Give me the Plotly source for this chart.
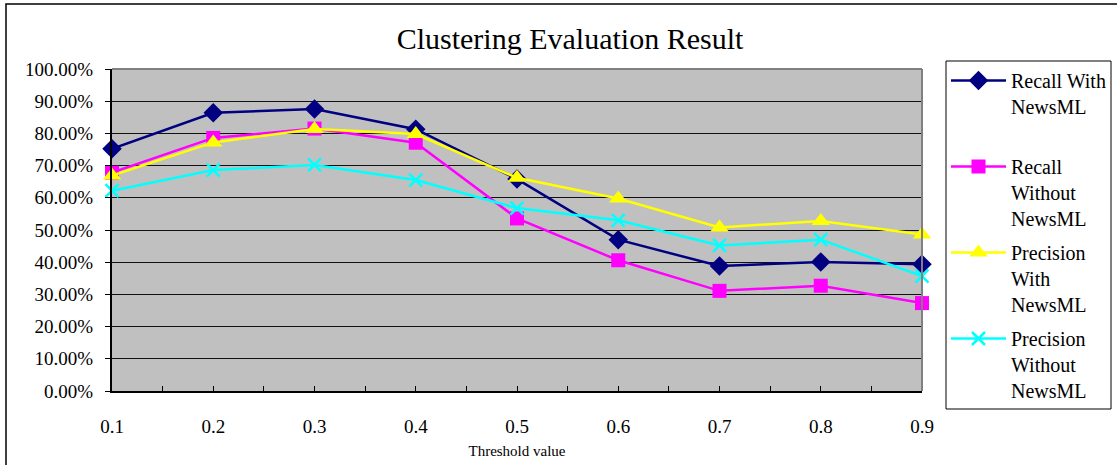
import plotly.graph_objects as go

thresholds = [0.1, 0.2, 0.3, 0.4, 0.5, 0.6, 0.7, 0.8, 0.9]
tick_labels = ["0.1", "0.2", "0.3", "0.4", "0.5", "0.6", "0.7", "0.8", "0.9"]

recall_with = [0.752, 0.864, 0.876, 0.813, 0.658, 0.470, 0.388, 0.401, 0.394]
recall_without = [0.678, 0.786, 0.815, 0.771, 0.536, 0.406, 0.311, 0.327, 0.273]
precision_with = [0.669, 0.772, 0.814, 0.798, 0.662, 0.598, 0.508, 0.528, 0.486]
precision_without = [0.622, 0.686, 0.702, 0.655, 0.568, 0.530, 0.452, 0.470, 0.357]

y_ticks = [i / 10 for i in range(11)]
y_tick_labels = ["%.2f%%" % (v * 100) for v in y_ticks]

series = [
    ("Recall With<br>NewsML<br> ", recall_with, "#000080", "diamond", 15, None),
    ("Recall<br>Without<br>NewsML", recall_without, "#FF00FF", "square", 14, None),
    ("Precision<br>With<br>NewsML", precision_with, "#FFFF00", "triangle-up", 16, None),
    ("Precision<br>Without<br>NewsML", precision_without, "#00FFFF", "x-thin", 13, 2.5),
]

FONT = "Liberation Serif"

fig = go.Figure()
for i, (name, vals, color, sym, size, lw) in enumerate(series):
    marker = dict(symbol=sym, size=size, color=color)
    if lw:
        marker["line"] = dict(color=color, width=lw)
    fig.add_trace(go.Scatter(
        x=thresholds, y=vals, name=name, mode="lines+markers", legendgroup="g%d" % i,
        line=dict(color=color, width=2.5), marker=marker, cliponaxis=False,
    ))

fig.update_layout(
    width=1117, height=465,
    margin=dict(l=112, r=195, t=69, b=74, autoexpand=False),
    paper_bgcolor="white", plot_bgcolor="#C0C0C0",
    font=dict(family=FONT, color="black", size=18),
    title=dict(text="Clustering Evaluation Result", x=570 / 1117, xanchor="center",
               y=1 - 38 / 465, yanchor="middle", yref="container",
               font=dict(family=FONT, size=30, color="black")),
    showlegend=True,
    legend=dict(x=(946 - 112) / 810, xanchor="left", y=1 - 61 / 465, yanchor="top",
                yref="container", maxheight=440,
                bgcolor="rgba(0,0,0,0)", borderwidth=0, valign="top",
                font=dict(family=FONT, size=20, color="black"),
                itemwidth=55, tracegroupgap=5),
    shapes=[
        dict(type="rect", xref="paper", yref="paper",
             x0=(946 - 112) / 810, x1=(1111 - 112) / 810,
             y0=(391 - 409) / 322, y1=(391 - 61) / 322,
             line=dict(color="black", width=1), fillcolor="rgba(0,0,0,0)"),
        dict(type="rect", xref="paper", yref="paper",
             x0=(6 - 112) / 810, x1=(1125 - 112) / 810,
             y0=(391 - 475) / 322, y1=(391 - 4) / 322,
             line=dict(color="black", width=1.5), fillcolor="rgba(0,0,0,0)"),
        dict(type="line", xref="paper", yref="paper", x0=0, x1=1, y0=1, y1=1,
             line=dict(color="#808080", width=2)),
        dict(type="line", xref="paper", yref="paper", x0=1, x1=1, y0=0, y1=1,
             line=dict(color="#808080", width=2)),
    ],
)

fig.update_xaxes(
    range=[0.1, 0.9], tickvals=thresholds, ticktext=tick_labels,
    ticks="inside", ticklen=5, tickcolor="black",
    minor=dict(dtick=0.05, tick0=0.1, ticks="inside", ticklen=5, tickcolor="black"),
    showline=True, linecolor="black", linewidth=2, showgrid=False, zeroline=False,
    tickfont=dict(family=FONT, size=19), ticklabelstandoff=17,
    title=dict(text="Threshold value", font=dict(family=FONT, size=15), standoff=10),
)
fig.update_yaxes(
    range=[0, 1], tickvals=y_ticks, ticktext=y_tick_labels,
    ticks="outside", ticklen=5, tickcolor="black",
    showline=True, linecolor="black", linewidth=2,
    showgrid=True, gridcolor="#111111", gridwidth=1, zeroline=False,
    tickfont=dict(family=FONT, size=19), ticklabelstandoff=8,
)

fig.write_html("out.html", config={"displayModeBar": False},
               post_script="document.body.style.margin='0';")
